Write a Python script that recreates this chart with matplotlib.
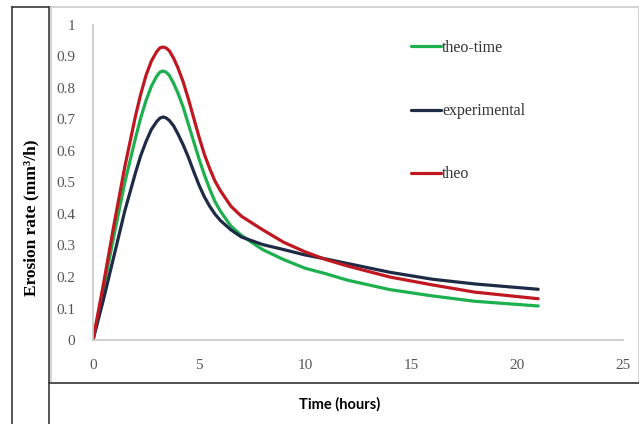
import matplotlib
matplotlib.use("Agg")
import matplotlib.pyplot as plt
from matplotlib.lines import Line2D
from matplotlib.patches import Rectangle

# Data
time_h = [0, 0.5, 1, 1.5, 2, 2.25, 2.5, 2.75, 3, 3.15, 3.3, 3.45, 3.6, 3.8, 4,
          4.25, 4.5, 4.75, 5, 5.25, 5.5, 5.75, 6, 6.5, 7,
          8, 9, 10, 11, 12, 14, 16, 18, 21]
theo_time = [0, 0.165, 0.335, 0.5, 0.64, 0.705, 0.76, 0.805, 0.837, 0.85,
             0.854, 0.85, 0.84, 0.815, 0.785, 0.74, 0.685, 0.63, 0.575, 0.525,
             0.48, 0.44, 0.41, 0.362, 0.332,
             0.287, 0.255, 0.228, 0.21, 0.19, 0.16, 0.14, 0.123, 0.108]
experimental = [0, 0.13, 0.27, 0.41, 0.53, 0.585, 0.63, 0.668, 0.693, 0.704,
                0.708, 0.705, 0.697, 0.68, 0.655, 0.62, 0.58, 0.535, 0.492,
                0.455, 0.425, 0.4, 0.38, 0.35, 0.327,
                0.303, 0.287, 0.27, 0.257, 0.243, 0.215, 0.193, 0.178, 0.161]
theo = [0, 0.18, 0.37, 0.55, 0.71, 0.78, 0.84, 0.885, 0.915, 0.927, 0.93,
        0.927, 0.918, 0.895, 0.865, 0.82, 0.765, 0.705, 0.645, 0.59, 0.545,
        0.505, 0.475, 0.425, 0.393,
        0.35, 0.31, 0.28, 0.255, 0.235, 0.2, 0.175, 0.152, 0.131]
series_names = ["theo-time", "experimental", "theo"]
x_ticks = [0, 5, 10, 15, 20, 25]
y_ticks = [0, 0.1, 0.2, 0.3, 0.4, 0.5, 0.6, 0.7, 0.8, 0.9, 1]
y_tick_labels = ["0", "0.1", "0.2", "0.3", "0.4", "0.5", "0.6", "0.7", "0.8", "0.9", "1"]

colors = ["#1DB04E", "#1E2B45", "#C01820"]

W, H = 639, 424
fig = plt.figure(figsize=(W / 100, H / 100), dpi=100)
fig.patch.set_facecolor("white")

def fx(px):
    return px / W

def fy(py):
    return 1 - py / H

# Frame / table lines
fig.add_artist(Rectangle((fx(50.5), fy(383)), fx(639 - 50.5), (383 - 6.5) / H,
                         transform=fig.transFigure, fill=False,
                         edgecolor="#D4D4D4", linewidth=1.5))
frame_kw = dict(transform=fig.transFigure, color="#3A3A3A", linewidth=1.2)
fig.add_artist(Line2D([fx(12), fx(12)], [fy(7), fy(424)], **frame_kw))
fig.add_artist(Line2D([fx(49), fx(49)], [fy(7), fy(424)], **frame_kw))
fig.add_artist(Line2D([fx(12), fx(49)], [fy(7), fy(7)], **frame_kw))
fig.add_artist(Line2D([fx(49), fx(639)], [fy(383), fy(383)], **frame_kw))

ax = fig.add_axes([93 / W, (H - 340) / H, (623 - 93) / W, (340 - 25) / H])
ax.set_facecolor("none")

for vals, name, c in zip([theo_time, experimental, theo], series_names, colors):
    ax.plot(time_h, vals, color=c, linewidth=2.3, label=name,
            solid_capstyle="round", solid_joinstyle="round")

ax.set_xlim(0, 25)
ax.set_ylim(0, 1)
ax.set_xticks(x_ticks)
ax.set_yticks(y_ticks)
ax.set_yticklabels(y_tick_labels)
for s in ["top", "right"]:
    ax.spines[s].set_visible(False)
for s in ["left", "bottom"]:
    ax.spines[s].set_color("#C8C8C8")
    ax.spines[s].set_linewidth(1.2)
ax.tick_params(axis="both", length=0, labelsize=11, labelcolor="#555555")
ax.tick_params(axis="y", pad=13)
ax.tick_params(axis="x", pad=14)
for lab in ax.get_xticklabels() + ax.get_yticklabels():
    lab.set_fontfamily("Liberation Serif")

leg = ax.legend(loc="upper left", bbox_to_anchor=(0.573, 0.998), frameon=False,
                handlelength=1.9, handletextpad=0.05, labelspacing=2.95,
                prop={"family": "Liberation Serif", "size": 11.5})
for t in leg.get_texts():
    t.set_color("#333333")

fig.text(fx(31), fy(218), "Erosion rate (mm³/h)", rotation=90, ha="center",
         va="center", fontfamily="Liberation Serif", fontweight="bold",
         fontsize=12.5, color="black")
fig.text(fx(340), fy(404), "Time (hours)", ha="center", va="center",
         fontfamily="Lato", fontweight="bold", fontsize=10.5, color="black")

fig.savefig("out.png", dpi=100, facecolor="white")
